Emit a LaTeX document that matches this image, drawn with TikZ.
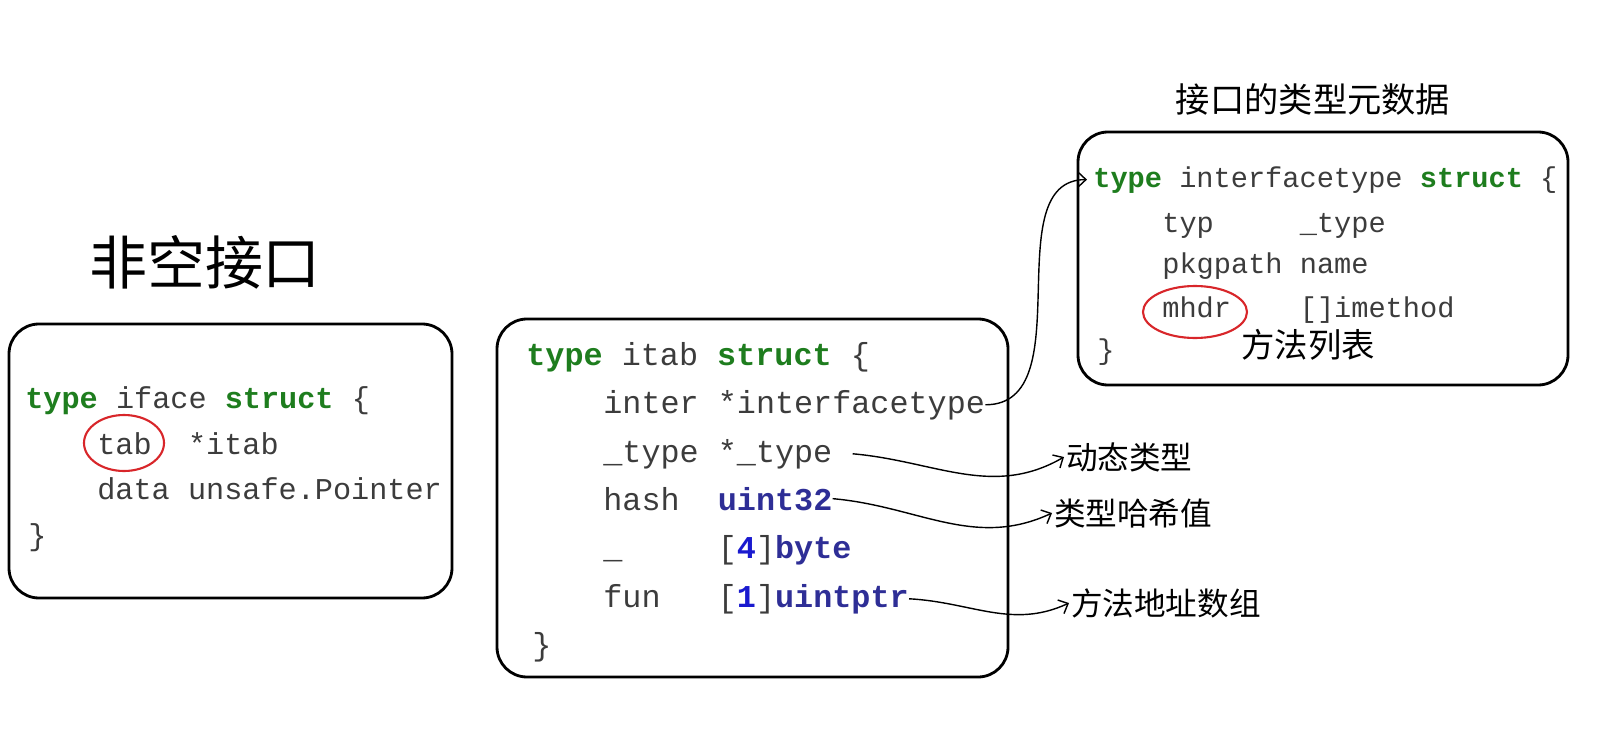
\documentclass[tikz,border=0pt]{standalone}
\usepackage{fontspec}
\setmonofont{Liberation Mono}
\newfontfamily\cjk{Noto Sans CJK SC}
\usepackage{xcolor}
\usepackage{tikz}
\usetikzlibrary{arrows.meta}

\definecolor{codegray}{HTML}{3C3C3C}
\definecolor{kwgreen}{HTML}{1E7D1E}
\definecolor{tyblue}{HTML}{2E2E96}
\definecolor{numblue}{HTML}{1A1ACF}
\definecolor{ringred}{HTML}{D8262A}

\newcommand{\gokw}[1]{\textcolor{kwgreen}{\bfseries #1}}
\newcommand{\gotype}[1]{\textcolor{tyblue}{\bfseries #1}}
\newcommand{\gonum}[1]{\textcolor{numblue}{\bfseries #1}}
\newcommand{\colpad}[1]{\hspace*{\dimexpr 0.6em*#1\relax}}

\tikzset{
	structbox/.style={draw, line width=1.6pt, rounded corners=0.6cm},
	codeline/.style={anchor=base west, inner sep=0pt, text=codegray, font=\ttfamily\fontsize{#1}{#1}\selectfont},
	cjknote/.style={inner sep=1pt, font=\cjk\fontsize{18}{18}\selectfont},
	redring/.style={draw=ringred, line width=1.2pt},
	arrowlink/.style={-{Straight Barb[length=1.6mm,width=3mm]}, line width=0.8pt},
}

\begin{document}
\begin{tikzpicture}[x=0.02cm, y=-0.02cm]
	\useasboundingbox (0,0) rectangle (1606,737);
	
	\node[font=\cjk\fontsize{33}{33}\selectfont] (title) at (205,262) {非空接口};
	
	% iface
	\draw[structbox] (9,324) rectangle (452,598);
	\node[codeline=17.2] (ifaceHead) at (25,408) {\gokw{type} iface \gokw{struct} \{};
	\node[codeline=17.2] (ifaceTab) at (97,454) {tab\colpad{2}*itab};
	\node[codeline=17.2] (ifaceData) at (97,499) {data unsafe.Pointer};
	\node[codeline=17.2] (ifaceEnd) at (28,545) {\}};
	\draw[redring] (124,443) ellipse [x radius=40, y radius=28];
	
	% itab
	\draw[structbox] (497,319) rectangle (1008,677);
	\node[codeline=18.1] (itabHead) at (526,365) {\gokw{type} itab \gokw{struct} \{};
	\node[codeline=18.1] (itabInter) at (603,413) {inter *interfacetype};
	\node[codeline=18.1] (itabType) at (603,462) {\_type *\_type};
	\node[codeline=18.1] (itabHash) at (603,510) {hash\colpad{2}\gotype{uint32}};
	\node[codeline=18.1] (itabPad) at (603,558) {\_\colpad{5}[\gonum{4}]\gotype{byte}};
	\node[codeline=18.1] (itabFun) at (603,607) {fun\colpad{3}[\gonum{1}]\gotype{uintptr}};
	\node[codeline=18.1] (itabEnd) at (532,655) {\}};
	
	% interfacetype
	\node[cjknote, font=\cjk\fontsize{19.5}{19.5}\selectfont] (metaTitle) at (1313,99) {接口的类型元数据};
	\draw[structbox] (1078,132) rectangle (1568,385);
	\node[codeline=16.3] (hdr) at (1093,187) {\gokw{type} interfacetype \gokw{struct} \{};
	\node[codeline=16.3] (hdrTyp) at (1162,232) {typ\colpad{5}\_type};
	\node[codeline=16.3] (hdrPkg) at (1162,273) {pkgpath name};
	\node[codeline=16.3] (hdrMhdr) at (1162,317) {mhdr\colpad{4}[]imethod};
	\node[codeline=16.3] (hdrEnd) at (1097,359) {\}};
	\draw[redring] (1195,312) ellipse [x radius=52, y radius=26];
	\node[cjknote, font=\cjk\fontsize{19}{19}\selectfont] (methods) at (1308,345) {方法列表};
	
	% notes
	\node[cjknote, anchor=west] (dyn) at (1064,457) {动态类型};
	\node[cjknote, anchor=west] (hashv) at (1052,513) {类型哈希值};
	\node[cjknote, anchor=west] (funs) at (1069,603) {方法地址数组};
	
	\draw[arrowlink, shorten >=0.12cm] (itabInter.east) to[out=0, in=180] (hdr.west);
	\draw[arrowlink] ([xshift=0.4cm]itabType.east) to[out=-5, in=210] (dyn.west);
	\draw[arrowlink] (itabHash.east) to[out=-5, in=205] (hashv.west);
	\draw[arrowlink] (itabFun.east) to[out=-3, in=205] (funs.west);
\end{tikzpicture}
\end{document}
